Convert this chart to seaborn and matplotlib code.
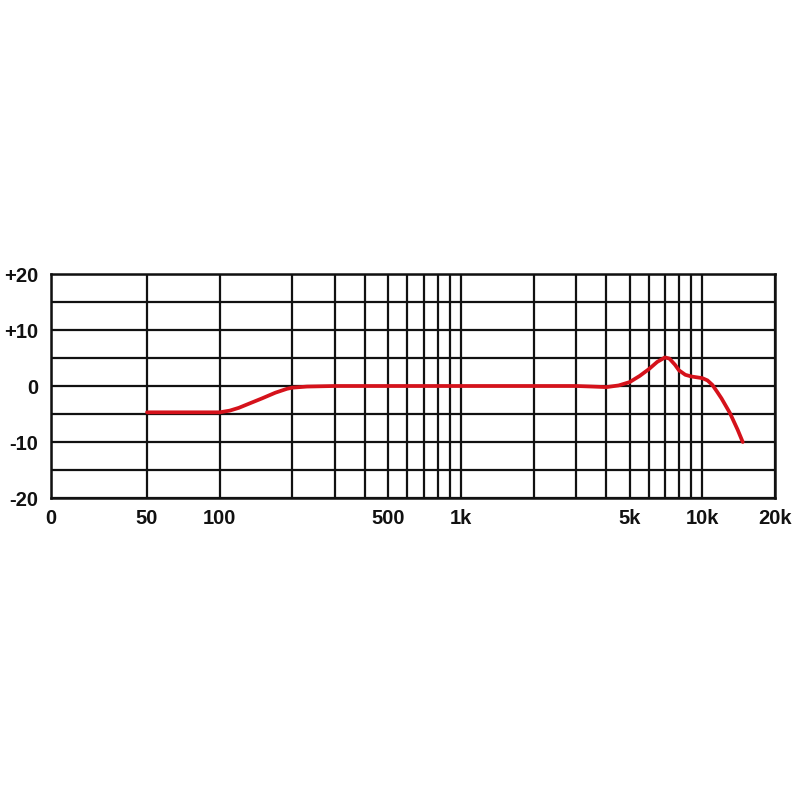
import matplotlib
matplotlib.use("Agg")
import matplotlib.pyplot as plt
import seaborn as sns
import pandas as pd
from matplotlib.ticker import FixedLocator, FixedFormatter, NullFormatter

# Frequency response data (Hz, dB)
freq_hz = [50, 60, 70, 80, 90, 100, 110, 120, 135, 150, 170, 190, 200, 230, 300,
           1000, 3000, 3500, 4000, 4500, 5000, 5500, 6000, 6500, 7000, 7300,
           7700, 8000, 8500, 9000, 10000, 10500, 11000, 11500, 12000, 13000,
           14000, 14700]
level_db = [-4.7, -4.7, -4.7, -4.7, -4.7, -4.7, -4.4, -3.9, -3.0, -2.2, -1.2, -0.5,
            -0.3, -0.1, 0.0, 0.0, 0.0, -0.1, -0.2, 0.1, 0.7, 1.8, 3.0, 4.3, 5.1,
            4.9, 3.8, 2.8, 2.0, 1.7, 1.4, 1.0, 0.2, -1.0, -2.2, -4.8, -7.8, -10.0]

x_major = [20, 50, 100, 500, 1000, 5000, 10000, 20000]
x_labels = ["0", "50", "100", "500", "1k", "5k", "10k", "20k"]
x_minor = [200, 300, 400, 600, 700, 800, 900, 2000, 3000, 4000, 6000, 7000, 8000, 9000]
y_major = [-20, -10, 0, 10, 20]
y_labels = ["-20", "-10", "0", "+10", "+20"]
y_minor = [-15, -5, 5, 15]

sns.set_theme(style="white")
plt.rcParams['font.family'] = ['Liberation Sans', 'DejaVu Sans']

df = pd.DataFrame({"freq": freq_hz, "db": level_db})

fig = plt.figure(figsize=(8, 8), dpi=100)
ax = fig.add_axes([51/800, 1 - 498/800, 724/800, 224/800])

sns.lineplot(data=df, x="freq", y="db", ax=ax, color="#d5121b", linewidth=2.7,
             zorder=5)

ax.set_xscale("log")
ax.set_xlim(20, 20000)
ax.set_ylim(-20, 20)

ax.xaxis.set_major_locator(FixedLocator(x_major))
ax.xaxis.set_major_formatter(FixedFormatter(x_labels))
ax.xaxis.set_minor_locator(FixedLocator(x_minor))
ax.xaxis.set_minor_formatter(NullFormatter())
ax.yaxis.set_major_locator(FixedLocator(y_major))
ax.yaxis.set_major_formatter(FixedFormatter(y_labels))
ax.yaxis.set_minor_locator(FixedLocator(y_minor))

ax.grid(True, which="both", color="#111111", linewidth=1.6)
ax.set_axisbelow(True)
ax.tick_params(which="both", length=0)
ax.tick_params(axis="x", pad=8, labelsize=14.5)
ax.tick_params(axis="y", pad=9, labelsize=14.5)
for lab in ax.get_xticklabels() + ax.get_yticklabels():
    lab.set_fontweight("bold")
    lab.set_color("#111111")

for s in ax.spines.values():
    s.set_visible(True)
    s.set_color("#111111")
    s.set_linewidth(1.8)

ax.set_xlabel("")
ax.set_ylabel("")

fig.savefig("out.png", dpi=100, facecolor="white")
